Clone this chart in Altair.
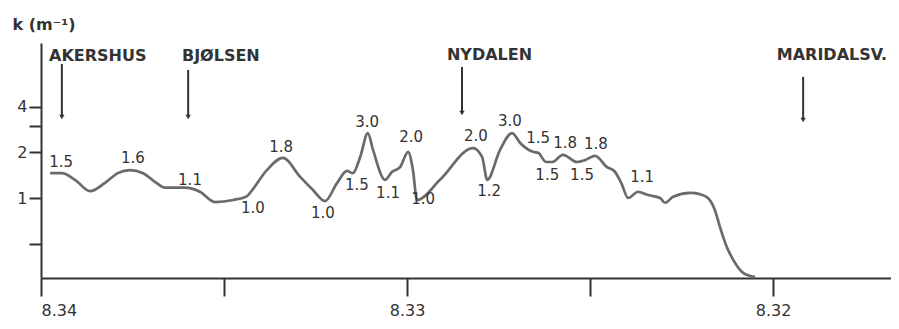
import altair as alt
import pandas as pd

# ---- curve (distance coordinate, attenuation k in m^-1) ----
x_pos = [8.33975, 8.33943, 8.33907, 8.33866, 8.33825, 8.33790, 8.33757, 8.33721,
         8.33689, 8.33661, 8.33607, 8.33566, 8.33525, 8.33475, 8.33437, 8.33429,
         8.33383, 8.33339, 8.33292, 8.33257, 8.33224, 8.33191, 8.33164, 8.33148,
         8.33128, 8.33107, 8.33093, 8.33060, 8.33041, 8.33019, 8.32997, 8.32984,
         8.32973, 8.32910, 8.32820, 8.32795, 8.32781, 8.32746, 8.32713, 8.32691,
         8.32656, 8.32642, 8.32620, 8.32604, 8.32574, 8.32536, 8.32514, 8.32486,
         8.32454, 8.32434, 8.32415, 8.32396, 8.32369, 8.32344, 8.32309, 8.32295,
         8.32273, 8.32227, 8.32200, 8.32178, 8.32159, 8.32145, 8.32126, 8.32109,
         8.32082, 8.32049]
k_val = [1.46, 1.46, 1.32, 1.11, 1.26, 1.46, 1.53, 1.46,
         1.28, 1.17, 1.17, 1.10, 0.94, 0.97, 1.03, 1.08,
         1.53, 1.84, 1.38, 1.13, 0.955, 1.26, 1.51, 1.46,
         1.87, 2.69, 2.08, 1.32, 1.49, 1.60, 2.02, 1.53,
         0.97, 1.32, 2.14, 1.87, 1.32, 2.08, 2.69, 2.31,
         2.02, 1.99, 1.73, 1.73, 1.93, 1.73, 1.78, 1.90,
         1.60, 1.51, 1.26, 1.00, 1.10, 1.05, 1.00, 0.93,
         1.02, 1.08, 1.06, 1.00, 0.83, 0.64, 0.47, 0.39,
         0.32, 0.30]

# ---- value annotations ----
label_text = ["1.5", "1.6", "1.1", "1.0", "1.8", "1.0", "1.5", "3.0", "1.1", "2.0",
              "1.0", "2.0", "1.2", "3.0", "1.5", "1.8", "1.5", "1.5", "1.8", "1.1"]
label_x = [8.33945, 8.33749, 8.33593, 8.33421, 8.33344, 8.33230, 8.33137, 8.33109,
           8.33052, 8.32989, 8.32956, 8.32812, 8.32776, 8.32719, 8.32642, 8.32568,
           8.32617, 8.32522, 8.32484, 8.32358]
label_k = [1.731, 1.839, 1.316, 0.859, 2.175, 0.796, 1.219, 3.183, 1.079, 2.533,
           0.985, 2.572, 1.112, 3.232, 2.494, 2.312, 1.420, 1.420, 2.276, 1.377]

# ---- stations ----
station_names = ["AKERSHUS", "BJØLSEN", "NYDALEN", "MARIDALSV."]
station_text_x = [8.33978, 8.33615, 8.32891, 8.31990]
station_arrow_x = [8.33943, 8.33598, 8.32850, 8.31918]
station_label_k = [8.70, 8.70, 8.80, 8.80]
arrow_top_k = [7.70, 7.03, 7.36, 6.32]
arrow_bottom_k = [3.43, 3.43, 3.65, 3.28]

x_ticks = [8.34, 8.335, 8.33, 8.325, 8.32]
y_ticks = [0.5, 1, 2, 3, 4]

curve = pd.DataFrame({"x": x_pos, "k": k_val})
labels = pd.DataFrame({"t": label_text, "x": label_x, "k": label_k})
stations = pd.DataFrame({"name": station_names, "tx": station_text_x,
                         "ax": station_arrow_x, "lk": station_label_k,
                         "top": arrow_top_k, "bot": arrow_bottom_k})

FONT = "DejaVu Sans"
INK = "#333333"

xs = alt.Scale(domain=[8.34, 8.31678], nice=False, zero=False)
ys = alt.Scale(type="log", domain=[0.2957, 10.6], nice=False)

x_axis = alt.Axis(
    values=x_ticks,
    labelExpr="abs(datum.value*100 - round(datum.value*100)) < 0.01 ? format(datum.value, '.2f') : ''",
    title=None, grid=False, tickSize=18, labelPadding=6,
)
y_axis = alt.Axis(
    values=y_ticks,
    labelExpr="(datum.value == 1 || datum.value == 2 || datum.value == 4) ? datum.value : ''",
    title="k (m⁻¹)", titleAngle=0, titleX=-29, titleY=-19, titleAlign="left",
    titleBaseline="middle", titleFontSize=16, titleFontWeight="bold",
    titleColor=INK, titleFont=FONT,
    grid=False, tickSize=12, labelPadding=2,
)

line = alt.Chart(curve).mark_line(
    color="#6a6a6a", strokeWidth=2.7, interpolate="monotone"
).encode(
    x=alt.X("x:Q", scale=xs, axis=x_axis),
    y=alt.Y("k:Q", scale=ys, axis=y_axis),
)

vals = alt.Chart(labels).mark_text(
    font=FONT, fontSize=15, color=INK, align="center", baseline="middle"
).encode(x=alt.X("x:Q", scale=xs), y=alt.Y("k:Q", scale=ys), text="t:N")

st_text = alt.Chart(stations).mark_text(
    font=FONT, fontSize=16, fontWeight="bold", color=INK, align="left", baseline="middle"
).encode(x=alt.X("tx:Q", scale=xs), y=alt.Y("lk:Q", scale=ys), text="name:N")

arrows = alt.Chart(stations).mark_rule(color=INK, strokeWidth=2).encode(
    x=alt.X("ax:Q", scale=xs), y=alt.Y("top:Q", scale=ys), y2="bot:Q"
)

heads = alt.Chart(stations).mark_point(
    shape="triangle-down", filled=True, size=28, color=INK, opacity=1
).encode(x=alt.X("ax:Q", scale=xs), y=alt.Y("bot:Q", scale=ys))

chart = alt.layer(line, vals, arrows, heads, st_text).properties(
    width=850, height=235,
    autosize=alt.AutoSizeParams(type="none"),
    padding={"left": 33, "top": 35, "right": 0, "bottom": 40},
).configure_view(stroke=None).configure_axis(
    domainColor=INK, domainWidth=2, tickColor=INK, tickWidth=2,
    labelColor=INK, labelFont=FONT, labelFontSize=16,
)

chart.save("out.html", embed_options={"renderer": "svg", "actions": False})
